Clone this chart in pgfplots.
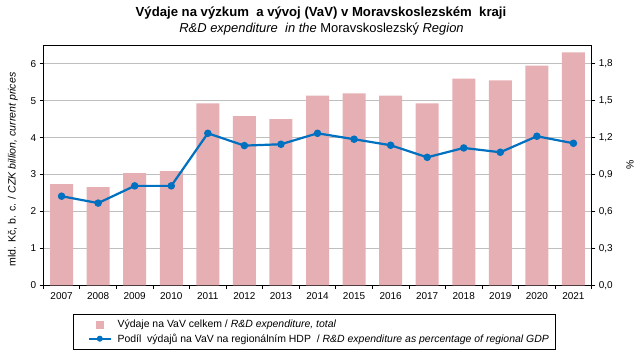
\documentclass[border=0pt]{standalone}
\usepackage{fontspec}
\setmainfont{Liberation Sans}
\usepackage{pgfplots}
\usepackage{pgfplotstable}
\pgfplotsset{compat=1.18}
\definecolor{barpink}{HTML}{E6AFB3}
\definecolor{lineblue}{HTML}{0070C0}
\definecolor{gridgray}{HTML}{BFBFBF}

\pgfplotstableread{
x val pct
0  2.74 0.724
1  2.66 0.668
2  3.04 0.808
3  3.09 0.808
4  4.93 1.235
5  4.58 1.135
6  4.50 1.146
7  5.14 1.235
8  5.20 1.187
9  5.14 1.138
10 4.93 1.040
11 5.60 1.116
12 5.55 1.081
13 5.95 1.211
14 6.31 1.154
}\datatable

\begin{document}
\begin{tikzpicture}[x=1bp,y=1bp]
\useasboundingbox (0,0) rectangle (643,358);
\node[font=\fontsize{13.2}{15}\selectfont\bfseries] at (321,345) {Výdaje na výzkum\ \ a vývoj (VaV) v Moravskoslezském\ \ kraji};
\node[font=\fontsize{13}{15}\selectfont] at (321.5,329) {\textit{R\&D expenditure\ \ in the} Moravskoslezský \textit{Region}};

\pgfplotsset{
  common/.style={
    at={(43.3bp,72.7bp)}, anchor=south west, scale only axis,
    width=548.4bp, height=240bp,
    xmin=-0.5, xmax=14.5,
    tick align=outside,
    major tick length=3.7bp, minor tick length=3.7bp,
    tick style={black, line width=0.75bp},
    tick label style={font=\fontsize{10}{12}\selectfont},
    /pgf/number format/assume math mode=true,
  }
}

\begin{axis}[common,
  ymin=0, ymax=6.5,
  ytick={0,1,2,3,4,5,6},
  xtick={0,...,14},
  xticklabels={2007,2008,2009,2010,2011,2012,2013,2014,2015,2016,2017,2018,2019,2020,2021},
  major x tick style={draw=none},
  minor xtick={-0.5,0.5,...,14.5},
  xtick pos=bottom, ytick pos=left,
  ymajorgrids, grid style={gridgray, line width=0.8bp},
  axis line style={black, line width=0.9bp},
  ylabel={mld. Kč, b. c. / \textit{CZK billion, current prices}},
  ylabel style={at={(axis description cs:-0.0553,0.483)}, anchor=center, font=\fontsize{10.6}{12}\selectfont},
]
\addplot[ybar, bar width=23bp, fill=barpink, draw=none] table[x=x,y=val]{\datatable};
\end{axis}

\begin{axis}[common,
  ymin=0, ymax=1.95,
  axis x line=none, axis y line*=right,
  axis line style={black, line width=0.9bp},
  ytick={0,0.3,0.6,0.9,1.2,1.5,1.8},
  yticklabel style={/pgf/number format/.cd, use comma, fixed, fixed zerofill, precision=1},
  ylabel={\%},
  ylabel style={at={(axis description cs:1.0699,0.5)}, anchor=center, font=\fontsize{10.5}{12}\selectfont},
  legend cell align=left,
  legend style={at={(axis description cs:0.0547,-0.118)}, anchor=north west,
    draw=black, line width=0.8bp, inner xsep=6.3bp, inner ysep=6bp,
    font=\fontsize{10.5}{12}\selectfont, row sep=4.5bp, column sep=5.7bp,
    nodes={inner sep=0pt}},
]
\addlegendimage{legend image code/.code={\path (0bp,0bp) (30.4bp,0bp); \fill[barpink] (15.9bp,-3.5bp) rectangle (22.9bp,3.5bp);}}
\addlegendentry{Výdaje na VaV celkem / \textit{R\&D expenditure, total}}
\addlegendimage{legend image code/.code={\path (0bp,0bp); \draw[lineblue, line width=2.2bp] (8.4bp,0bp) -- (30.4bp,0bp); \fill[lineblue] (19.4bp,0bp) circle (2.6bp);}}
\addlegendentry{Podíl\ \ výdajů na VaV na regionálním HDP\ \ / \textit{R\&D expenditure as percentage of regional GDP}}
\addplot[lineblue, line width=2.2bp, mark=*, mark size=2.6bp, forget plot]
  table[x=x,y=pct]{\datatable};
\end{axis}
\end{tikzpicture}
\end{document}
